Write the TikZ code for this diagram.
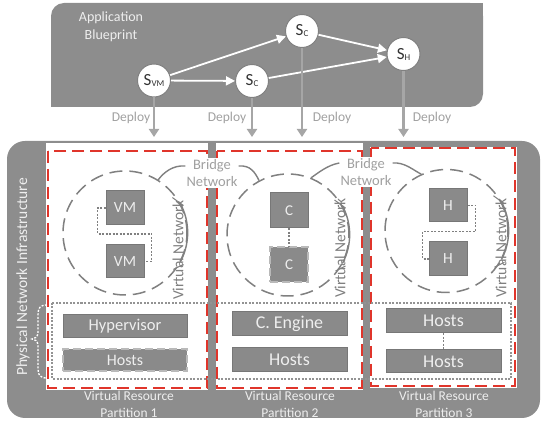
\documentclass[tikz,border=0pt]{standalone}
\usepackage{fontspec}
\setmainfont{Carlito}
\usetikzlibrary{arrows.meta}

\definecolor{panel}{HTML}{8D8D8D}
\definecolor{boxfill}{HTML}{8A8A8A}
\definecolor{boxline}{HTML}{777777}
\definecolor{paletext}{HTML}{EEEEEE}
\definecolor{softtext}{HTML}{A0A0A0}
\definecolor{redline}{HTML}{E0352B}
\definecolor{deploygray}{HTML}{A6A6A6}
\definecolor{ringgray}{HTML}{808080}

\newcommand{\fs}[1]{\fontsize{#1}{#1}\selectfont}

\tikzset{
  svc/.style={circle, draw=ringgray, line width=1pt, fill=white, minimum size=33pt,
    inner sep=0pt, font=\fs{17}, text=black!80},
  flow/.style={draw=white, line width=1.8pt, -{Triangle[length=9pt,width=9pt]}},
  deploy/.style={draw=deploygray, line width=2.5pt, -{Triangle[length=8pt,width=10pt]}},
  deploylabel/.style={font=\fs{13.5}, text=softtext},
  partition/.style={fill=white},
  reddash/.style={draw=redline, line width=2.5pt, dash pattern=on 12pt off 6pt},
  netring/.style={circle, draw=ringgray, line width=1.5pt, dash pattern=on 13pt off 7pt, inner sep=0pt},
  ringarc/.style={draw=ringgray, line width=1.4pt},
  unit/.style={draw=boxline, fill=boxfill, line width=1pt, text=paletext, inner sep=0pt},
  dashedunit/.style={unit, draw=gray!55, line width=1.5pt, dash pattern=on 8pt off 4pt},
  link/.style={draw=gray, line width=1.3pt, dash pattern=on 2pt off 1.5pt},
  bridge/.style={fill=white, align=center, font=\fontsize{14.5}{17}\selectfont, text=softtext, inner sep=1pt},
  vnet/.style={rotate=90, font=\fs{15.5}, text=ringgray},
  panellabel/.style={align=center, font=\fontsize{13.5}{17}\selectfont, text=paletext},
}

\begin{document}
\begin{tikzpicture}[x=1pt, y=-1pt]
\useasboundingbox (0,0) rectangle (542,422);

% ---------- application blueprint panel ----------
\fill[panel, rounded corners=13] (51,3) rectangle (483,107);
\fill[panel] (470,3) rectangle (483,16);
\fill[panel] (51,94) rectangle (64,107);
\node[align=center, font=\fontsize{14}{18}\selectfont, text=paletext] (bp) at (111,27) {Application\\Blueprint};

% ---------- physical infrastructure panel ----------
\fill[panel, rounded corners=18] (7,141) rectangle (540,418);
\node[rotate=90, font=\fs{15.5}, text=paletext] (phys) at (23,277) {Physical Network Infrastructure};

% partitions
\fill[partition] (46,143) rectangle (208,390);
\fill[partition] (216,143) rectangle (363,390);
\fill[partition] (370,147) rectangle (517,388);
\draw[reddash] (48,151) rectangle (207,388);
\draw[reddash] (217,151) rectangle (362,388);
\draw[reddash] (371,148) rectangle (515,386);

\node[panellabel] (vr1) at (129,404.5) {Virtual Resource\\Partition 1};
\node[panellabel] (vr2) at (290,404.5) {Virtual Resource\\Partition 2};
\node[panellabel] (vr3) at (444,404.5) {Virtual Resource\\Partition 3};

% shared host layer
\draw[link, draw=gray!85] (52,303) rectangle (511,379);
\draw[white, line width=1.3pt, dash pattern=on 2pt off 1.5pt]
  (47,305) .. controls (40,305) and (38,308) .. (38,315) -- (38,332)
  .. controls (38,337) and (35,339) .. (32,339)
  .. controls (35,339) and (38,341) .. (38,346) -- (38,369)
  .. controls (38,375) and (40,378) .. (47,378);

% virtual networks
\node[netring, minimum size=124pt] (ring1) at (125,233) {};
\node[netring, minimum size=122pt] (ring2) at (288,235) {};
\node[netring, minimum size=123pt] (ring3) at (446.5,231) {};

\foreach \r/\rad in {ring1/62, ring2/61, ring3/61.5}{
  \draw[ringarc] (\r.28) arc[start angle=-28, end angle=28, radius=\rad];
  \draw[ringarc, line width=1pt] ([shift={(-8pt,6pt)}]\r.28) -- ([shift={(3pt,-2pt)}]\r.28);
  \draw[ringarc, line width=1pt] ([shift={(-7pt,-7pt)}]\r.-28) -- ([shift={(3pt,-2pt)}]\r.-28);
}
\node[vnet] (vn1) at (178,250) {Virtual Network};
\node[vnet] (vn2) at (340,248) {Virtual Network};
\node[vnet] (vn3) at (501,248) {Virtual Network};

% bridge networks
\node[bridge] (br1) at (212,173) {Bridge\\Network};
\node[bridge] (br2) at (366,172) {Bridge\\Network};
\draw[ringarc] ([yshift=7pt]br1.west) .. controls +(-12,-1) and +(6,-8) .. (ring1.58);
\draw[ringarc] ([yshift=7pt]br1.east) .. controls +(12,-1) and +(-4,-8) .. (ring2.118);
\draw[ringarc] ([yshift=9pt]br2.west) .. controls +(-12,2) and +(6,-4) .. (ring2.68);
\draw[ringarc] ([yshift=9pt]br2.east) .. controls +(12,-1) and +(-8,-4) .. (ring3.114);

% partition 1: virtual machines
\node[unit, minimum width=38pt, minimum height=34pt, font=\fs{15.5}] (vm1) at (125,208) {VM};
\node[unit, minimum width=38pt, minimum height=33pt, font=\fs{15.5}] (vm2) at (125,261.5) {VM};
\draw[link] (vm1.west) -- ++(-8,0) -- ++(0,26) -- ++(54,0) |- (vm2.east);
\node[unit, minimum width=124pt, minimum height=23pt, font=\fs{16.5}] (hyp) at (125,326.5) {Hypervisor};
\node[dashedunit, minimum width=124pt, minimum height=22pt, font=\fs{16}] (hosts1) at (125,360) {Hosts};

% partition 2: containers
\node[unit, minimum width=38pt, minimum height=35pt, font=\fs{15}] (c1) at (289,210.5) {C};
\node[dashedunit, minimum width=38pt, minimum height=35pt, font=\fs{15}] (c2) at (289,264.5) {C};
\draw[link] (c1.south) -- (c2.north);
\node[unit, minimum width=115pt, minimum height=24pt, font=\fs{18}] (ceng) at (289.5,324) {C. Engine};
\node[unit, minimum width=115pt, minimum height=24pt, font=\fs{18}] (hosts2) at (289.5,360) {Hosts};

% partition 3: hosts
\node[unit, minimum width=38pt, minimum height=33pt, font=\fs{15.5}] (h1) at (448,205.5) {H};
\node[unit, minimum width=38pt, minimum height=34pt, font=\fs{15.5}] (h2) at (448,259) {H};
\draw[link] (h1.east) -- ++(8,0) -- ++(0,26) -- ++(-53,0) |- (h2.west);
\node[unit, minimum width=115pt, minimum height=24pt, font=\fs{18}] (hostsA) at (443.5,321) {Hosts};
\node[unit, minimum width=115pt, minimum height=23pt, font=\fs{18}] (hostsB) at (443.5,361.5) {Hosts};
\draw[link] (hostsA.south) -- (hostsB.north);

% ---------- services and their dependencies ----------
\node[svc] (svm) at (154,80.5) {S\raisebox{-1pt}{\fs{9}VM}};
\node[svc] (scl) at (252,81) {S\raisebox{-1pt}{\fs{9}C}};
\node[svc] (scu) at (302,31) {S\raisebox{-1pt}{\fs{9}C}};
\node[svc] (sh) at (403.5,54) {S\raisebox{-1pt}{\fs{9}H}};

\draw[flow] (svm) -- (scu);
\draw[flow] (svm) -- (scl);
\draw[flow] (scu) -- (sh);
\draw[flow] (scl) -- (sh);

% deployment arrows
\coordinate (t1) at (154,137);
\coordinate (t2) at (252,137);
\coordinate (t3) at (302,137);
\coordinate (t4) at (403.5,137);
\draw[deploy] (svm.south) -- (t1);
\draw[deploy] (scl.south) -- (t2);
\draw[deploy] (scu.south) -- (t3);
\draw[deploy] (sh.south) -- (t4);
\node[deploylabel] (dl1) at (131,118) {Deploy};
\node[deploylabel] (dl2) at (227,118) {Deploy};
\node[deploylabel] (dl3) at (332,118) {Deploy};
\node[deploylabel] (dl4) at (432,118) {Deploy};
\end{tikzpicture}
\end{document}
